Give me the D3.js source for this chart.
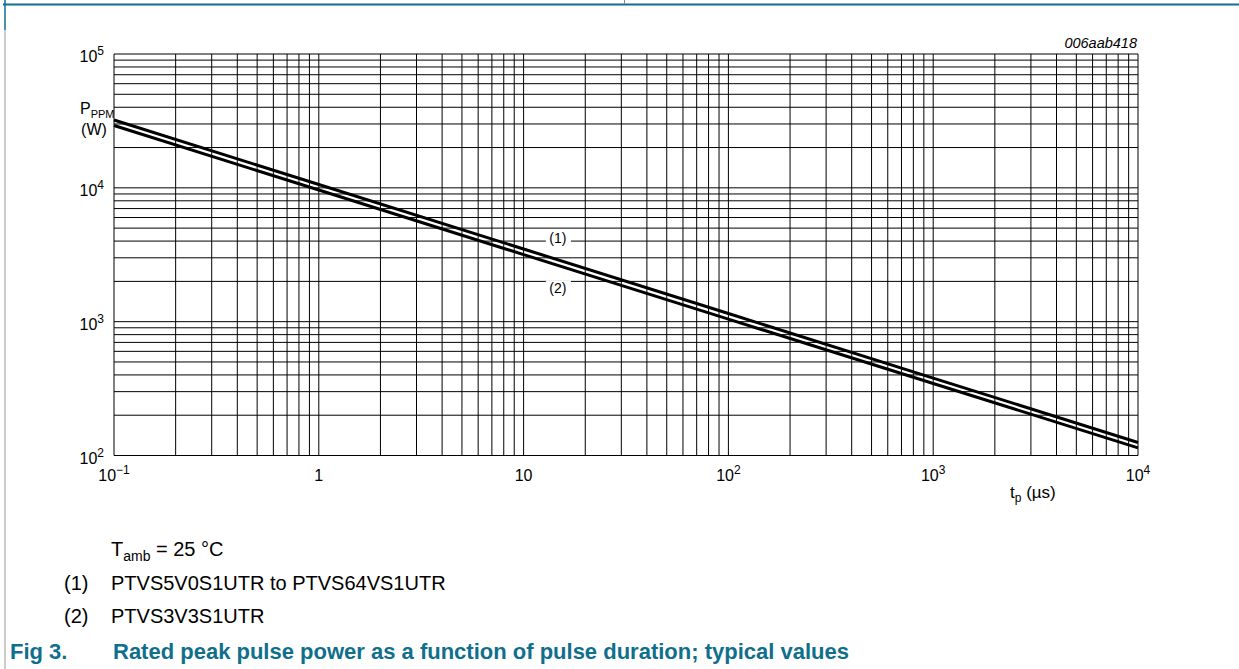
<!DOCTYPE html>
<html>
<head>
<meta charset="utf-8">
<script src="https://cdn.jsdelivr.net/npm/d3@7"></script>
<style>
  html, body { margin: 0; padding: 0; background: #fff; }
  svg { display: block; }
  text { font-family: "Liberation Sans", Arial, sans-serif; fill: #000; }
</style>
</head>
<body>
<svg id="chart" width="1239" height="669"></svg>
<script>
// ---- data ----
const pulseDuration = [0.1, 1, 10, 100, 1000, 10000];           // tp (µs)
const series1 = [32100, 10600, 3490, 1150, 379, 125];           // (1) PTVS5V0S1UTR to PTVS64VS1UTR
const series2 = [29200, 9630, 3170, 1045, 345, 114];            // (2) PTVS3V3S1UTR
const seriesNames = ["(1)", "(2)"];
const xTickValues = [0.1, 1, 10, 100, 1000, 10000];
const xTickBase = ["10", "1", "10", "10", "10", "10"];
const xTickExp = ["\u22121", "", "", "2", "3", "4"];
const yTickValues = [100, 1000, 10000, 100000];
const yTickBase = ["10", "10", "10", "10"];
const yTickExp = ["2", "3", "4", "5"];
const footnotes = ["PTVS5V0S1UTR to PTVS64VS1UTR", "PTVS3V3S1UTR"];

const teal = "#0f6f8c";
const svg = d3.select("#chart");

// frame lines of the datasheet table
svg.append("line").attr("x1", 3).attr("x2", 1239).attr("y1", 4.5).attr("y2", 4.5)
  .attr("stroke", teal).attr("stroke-width", 2);
svg.append("line").attr("x1", 5).attr("x2", 5).attr("y1", 0).attr("y2", 30)
  .attr("stroke", teal).attr("stroke-width", 1.5);
svg.append("line").attr("x1", 5).attr("x2", 5).attr("y1", 30).attr("y2", 669)
  .attr("stroke", "#999").attr("stroke-width", 1);
svg.append("line").attr("x1", 624.5).attr("x2", 624.5).attr("y1", 0).attr("y2", 4)
  .attr("stroke", "#888").attr("stroke-width", 1);

// ---- scales ----
const x = d3.scaleLog().domain([0.1, 10000]).range([114, 1138]);
const y = d3.scaleLog().domain([100, 100000]).range([455.5, 54]);

// ---- grid ----
const grid = svg.append("g");
const xGridVals = [];
for (let d = -1; d < 4; d++) for (let k = 1; k <= 9; k++) xGridVals.push(k * Math.pow(10, d));
xGridVals.push(10000);
const yGridVals = [];
for (let d = 2; d < 5; d++) for (let k = 1; k <= 9; k++) yGridVals.push(k * Math.pow(10, d));
yGridVals.push(100000);

grid.selectAll("line.v").data(xGridVals).enter().append("line")
  .attr("x1", d => x(d)).attr("x2", d => x(d))
  .attr("y1", y(100000)).attr("y2", y(100))
  .attr("stroke", "#000").attr("stroke-width", 1);
grid.selectAll("line.h").data(yGridVals).enter().append("line")
  .attr("x1", x(0.1)).attr("x2", x(10000))
  .attr("y1", d => y(d)).attr("y2", d => y(d))
  .attr("stroke", "#000").attr("stroke-width", 1);

// ---- curve labels with white boxes ----
const labelP = [4200, 1770];     // P value where each label sits
const labelT = 14.7;             // tp where labels are centred
seriesNames.forEach((nm, i) => {
  const cx = x(labelT), cy = y(labelP[i]);
  svg.append("rect").attr("x", cx - 12).attr("y", cy - 8).attr("width", 25).attr("height", 16)
    .attr("fill", "#fff");
  svg.append("text").attr("x", cx).attr("y", cy + 5).attr("text-anchor", "middle")
    .attr("font-size", 14).text(nm);
});

// ---- curves ----
const line = d3.line().x(d => x(d[0])).y(d => y(d[1]));
[series1, series2].forEach(s => {
  svg.append("path").datum(pulseDuration.map((t, i) => [t, s[i]]))
    .attr("d", line).attr("fill", "none").attr("stroke", "#000").attr("stroke-width", 3);
});

// ---- tick labels ----
xTickValues.forEach((v, i) => {
  const t = svg.append("text").attr("x", x(v)).attr("y", 481).attr("text-anchor", "middle")
    .attr("font-size", 16);
  t.append("tspan").text(xTickBase[i]);
  if (xTickExp[i]) t.append("tspan").attr("dy", -7).attr("font-size", 12).text(xTickExp[i]);
});
yTickValues.forEach((v, i) => {
  const t = svg.append("text").attr("x", 104).attr("y", y(v) + 8).attr("text-anchor", "end")
    .attr("font-size", 16);
  t.append("tspan").text(yTickBase[i]);
  t.append("tspan").attr("dy", -7).attr("font-size", 12).text(yTickExp[i]);
});

// ---- axis titles ----
const yt = svg.append("text").attr("x", 80).attr("y", 114).attr("font-size", 16);
yt.append("tspan").text("P");
yt.append("tspan").attr("dy", 4).attr("font-size", 11).text("PPM");
svg.append("text").attr("x", 94).attr("y", 135).attr("text-anchor", "middle").attr("font-size", 16).text("(W)");

const xt = svg.append("text").attr("x", 1010).attr("y", 498).attr("font-size", 17);
xt.append("tspan").text("t");
xt.append("tspan").attr("dy", 4).attr("font-size", 12).text("p");
xt.append("tspan").attr("dy", -4).text(" (\u00b5s)");

svg.append("text").attr("x", 1137).attr("y", 48).attr("text-anchor", "end")
  .attr("font-size", 14.5).attr("font-style", "italic").text("006aab418");

// ---- footnotes ----
const tn = svg.append("text").attr("x", 111).attr("y", 556).attr("font-size", 20);
tn.append("tspan").text("T");
tn.append("tspan").attr("dy", 5).attr("font-size", 14).text("amb");
tn.append("tspan").attr("dy", -5).text(" = 25 \u00b0C");
footnotes.forEach((f, i) => {
  svg.append("text").attr("x", 64).attr("y", 590 + i * 33).attr("font-size", 20).text(seriesNames[i]);
  svg.append("text").attr("x", 111).attr("y", 590 + i * 33).attr("font-size", 20).text(f);
});
svg.append("text").attr("x", 10).attr("y", 659).attr("font-size", 22).attr("font-weight", "bold")
  .style("fill", teal).text("Fig 3.");
svg.append("text").attr("x", 113).attr("y", 659).attr("font-size", 22).attr("font-weight", "bold")
  .style("fill", teal).text("Rated peak pulse power as a function of pulse duration; typical values");
</script>
</body>
</html>
